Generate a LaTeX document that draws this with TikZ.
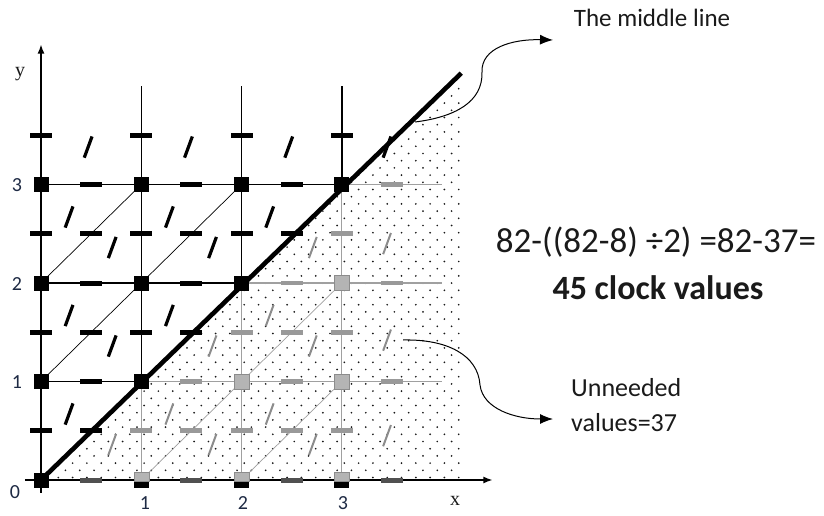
\documentclass[tikz,border=0pt]{standalone}
\usepackage{fontspec}
\setmainfont{Carlito}
\newfontfamily\serifx{Liberation Serif}
\usetikzlibrary{arrows.meta}
\definecolor{lgray}{HTML}{A0A0A0}
\definecolor{bgray}{HTML}{999999}
\definecolor{agray}{HTML}{505050}
\definecolor{sqgray}{HTML}{B4B4B4}
\definecolor{sqedge}{HTML}{8C8C8C}
\definecolor{txt}{HTML}{1A1A1A}
\definecolor{tick}{HTML}{1E2A44}
\tikzset{
  gk/.style={black, line width=1.3pt},
  gg/.style={lgray, line width=1.1pt},
  dk/.style={black, line width=0.7pt},
  dg/.style={lgray, line width=0.7pt},
  slk/.style={black, line width=3.2pt},
  slg/.style={sqedge, line width=2pt},
  arr/.style={black, line width=1pt, -{Latex[length=13pt,width=10pt]}},
  lbl/.style={inner sep=0pt, text=txt},
  ticklbl/.style={lbl, text=tick, font=\fontsize{20}{20}\selectfont},
}
\newcommand\BarK[2]{\fill[black] ([shift={(-11pt,-2.5pt)}]#1,#2) rectangle ([shift={(11pt,2.5pt)}]#1,#2);}
\newcommand\BarG[2]{\fill[bgray] ([shift={(-11pt,-2.3pt)}]#1,#2) rectangle ([shift={(11pt,2.3pt)}]#1,#2);}
\newcommand\BarA[2]{\fill[agray] ([shift={(-11pt,-2.5pt)}]#1,#2) rectangle ([shift={(11pt,2.5pt)}]#1,#2);}
\newcommand\SlK[2]{\draw[slk] ([shift={(-3.9pt,-10.6pt)}]#1,#2) -- ([shift={(3.9pt,10.6pt)}]#1,#2);}
\newcommand\SlG[2]{\draw[slg] ([shift={(-3.9pt,-10.6pt)}]#1,#2) -- ([shift={(3.9pt,10.6pt)}]#1,#2);}
\newcommand\SqK[2]{\fill[black] ([shift={(-7.5pt,-7.5pt)}]#1,#2) rectangle ([shift={(7.5pt,7.5pt)}]#1,#2);}
\newcommand\SqG[2]{\filldraw[fill=sqgray, draw=sqedge, line width=0.6pt] ([shift={(-7.5pt,-7.5pt)}]#1,#2) rectangle ([shift={(7.5pt,7.5pt)}]#1,#2);}
\newcommand\SqA[2]{\fill[black] ([shift={(-7.5pt,-7.5pt)}]#1,#2) rectangle ([shift={(7.5pt,7.5pt)}]#1,#2);
  \filldraw[fill=sqgray, draw=sqedge, line width=0.6pt] ([shift={(-7.5pt,-1.5pt)}]#1,#2) rectangle ([shift={(7.5pt,7.5pt)}]#1,#2);}
\begin{document}
\begin{tikzpicture}[x=1pt,y=1pt]
\useasboundingbox (0,0) rectangle (824,515);
\fill[white] (0,0) rectangle (824,515);
% dotted region
\begin{scope}
  \clip (41,35) -- (461.5,442) -- (463.5,442) -- (463.5,35) -- cycle;
  \foreach \r in {0,...,58}{
    \foreach \c in {0,...,30}{
      \pgfmathsetmacro{\dx}{44+\c*14.3+mod(\r,2)*7.15}
      \pgfmathsetmacro{\dy}{37.5+\r*7.2}
      \fill[black!90] (\dx,\dy) circle (0.95pt);
    }
  }
\end{scope}
\begin{scope}[shift={(41,35)}, x=100.3pt, y=98.5pt]
  % gray grid part
  \draw[gg] (1,1)--(4,1) (2,2)--(4,2) (3,3)--(4,3) (1,0)--(1,1) (2,0)--(2,2) (3,0)--(3,3);
  \draw[dg] (1,0)--(3,2) (2,0)--(3,1);
  % black grid part
  \draw[gk] (0,1)--(1,1) (0,2)--(2,2) (0,3)--(3,3) (1,1)--(1,4) (2,2)--(2,4) (3,3)--(3,4);
  \draw[dk] (0,1)--(2,3) (0,2)--(1,3);
  % axes
  \draw[gk, -{Latex[length=9pt,width=7pt]}] (0,-0.13) -- (0,4.42);
  \draw[gk, -{Latex[length=9pt,width=7pt]}] (-0.16,0) -- (4.5,0);
  % bars on edges
  \BarK{0.5}{1}\BarK{0.5}{2}\BarK{1.5}{2}\BarK{0.5}{3}\BarK{1.5}{3}\BarK{2.5}{3}
  \BarG{1.5}{1}\BarG{2.5}{1}\BarG{3.5}{1}\BarG{2.5}{2}\BarG{3.5}{2}\BarG{3.5}{3}
  \BarA{0.5}{0}\BarA{1.5}{0}\BarA{2.5}{0}\BarA{3.5}{0}
  \BarK{0}{0.5}\BarK{0}{1.5}\BarK{0}{2.5}\BarK{0}{3.5}\BarK{1}{1.5}\BarK{1}{2.5}\BarK{1}{3.5}
  \BarK{2}{2.5}\BarK{2}{3.5}\BarK{3}{3.5}
  \BarG{1}{0.5}\BarG{2}{0.5}\BarG{2}{1.5}\BarG{3}{0.5}\BarG{3}{1.5}\BarG{3}{2.5}
  \BarK{0.5}{0.5}\BarK{1.5}{1.5}\BarK{2.5}{2.5}\BarK{0.5}{1.5}\BarK{1.5}{2.5}\BarK{0.5}{2.5}
  \BarG{1.5}{0.5}\BarG{2.5}{1.5}\BarG{2.5}{0.5}
  % slashes
  \SlK{0.28}{0.67}\SlK{0.28}{1.67}\SlK{0.28}{2.67}\SlK{1.28}{1.67}\SlK{1.28}{2.67}\SlK{2.28}{2.67}
  \SlK{0.71}{1.36}\SlK{0.71}{2.36}\SlK{1.71}{2.36}
  \SlK{0.47}{3.38}\SlK{1.47}{3.38}\SlK{2.47}{3.38}\SlK{3.45}{3.38}
  \SlG{1.28}{0.67}\SlG{2.28}{0.67}\SlG{2.28}{1.67}
  \SlG{0.71}{0.36}\SlG{1.71}{0.36}\SlG{2.71}{0.36}\SlG{1.71}{1.36}\SlG{2.71}{1.36}\SlG{2.71}{2.36}
  \SlG{3.45}{0.45}\SlG{3.45}{1.42}\SlG{3.45}{2.4}
  % main diagonal
  \draw[black, line width=4.6pt] (0,0) -- (4.19,4.13);
  % squares
  \SqK{0}{0}\SqK{0}{1}\SqK{0}{2}\SqK{0}{3}\SqK{1}{1}\SqK{1}{2}\SqK{1}{3}\SqK{2}{2}\SqK{2}{3}\SqK{3}{3}
  \SqG{2}{1}\SqG{3}{1}\SqG{3}{2}
  \SqA{1}{0}\SqA{2}{0}\SqA{3}{0}
\end{scope}
% axis labels
\node[lbl, font=\serifx\fontsize{20}{20}\selectfont] (ylab) at (20,441) {y};
\node[lbl, font=\serifx\fontsize{20}{20}\selectfont] (xlab) at (455,14) {x};
\node[ticklbl] (t0) at (15,23) {0};
\node[ticklbl] (tx1) at (145,12) {1};
\node[ticklbl] (tx2) at (243,12) {2};
\node[ticklbl] (tx3) at (343,12) {3};
\node[ticklbl] (ty1) at (17,133) {1};
\node[ticklbl] (ty2) at (17,231) {2};
\node[ticklbl] (ty3) at (17,330) {3};
% texts
\node[lbl, font=\fontsize{25}{25}\selectfont] (mid) at (652,497) {The middle line};
\node[lbl, font=\fontsize{35}{35}\selectfont] (eq) at (656,273) {82-((82-8) ÷2) =82-37=};
\node[lbl, font=\bfseries\fontsize{34}{34}\selectfont] (res) at (658,227) {45 clock values};
\node[lbl, font=\fontsize{26}{35}\selectfont, align=left, anchor=west] (unn) at (571,110) {Unneeded\\values=37};
% connectors
\coordinate (midstart) at (415,393);
\coordinate (midtip) at (553,475);
\coordinate (unstart) at (403,175);
\coordinate (untip) at (553,96);
\draw[arr] (midstart) .. controls (455,398) and (483,413) .. (482,443) .. controls (481,467) and (512,476) .. (midtip);
\draw[arr] (unstart) .. controls (447,176) and (478,160) .. (480,130) .. controls (483,106) and (515,96) .. (untip);
\end{tikzpicture}
\end{document}
